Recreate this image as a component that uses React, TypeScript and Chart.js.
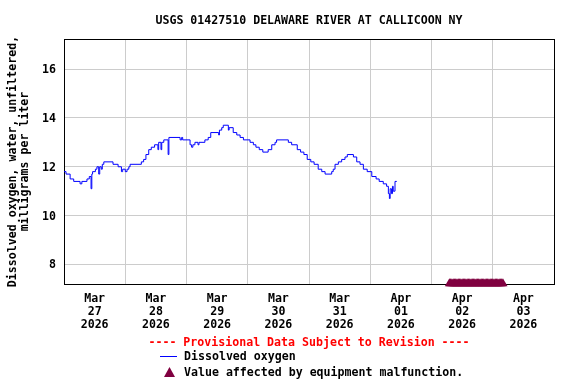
import React, { useEffect, useRef } from 'react';
import { Chart, registerables } from 'chart.js';

Chart.register(...registerables);

const TITLE = 'USGS 01427510 DELAWARE RIVER AT CALLICOON NY';
const Y_TITLE = ['Dissolved oxygen, water, unfiltered,', 'milligrams per liter'];
const PROVISIONAL = '---- Provisional Data Subject to Revision ----';
const SERIES_LABEL = 'Dissolved oxygen';
const MALFUNCTION_LABEL = 'Value affected by equipment malfunction.';

// hours since Mar 27 2026 00:00; label sits at noon of each day
const DAY_LABELS: string[][] = [
  ['Mar', '27', '2026'],
  ['Mar', '28', '2026'],
  ['Mar', '29', '2026'],
  ['Mar', '30', '2026'],
  ['Mar', '31', '2026'],
  ['Apr', '01', '2026'],
  ['Apr', '02', '2026'],
  ['Apr', '03', '2026'],
];
const X_TICK_HOURS = [0, 12, 24, 36, 48, 60, 72, 84, 96, 108, 120, 132, 144, 156, 168, 180, 192];
const X_MIN = 0;
const X_MAX = 192;

const Y_TICKS = [8, 10, 12, 14, 16];
const Y_MIN = 7.2;
const Y_MAX = 17.23;

const DO_HOURS = [
  0, 0.8, 2.4, 3.8, 6.3, 7.0, 9.0, 9.9, 10.6, 10.9, 11.2, 12.3, 12.9, 13.6, 14.0, 14.6, 15.0, 15.6,
  19.2, 21.2, 22.5, 23.0, 24.0, 24.7, 25.4, 25.9, 30.3, 31.2, 32.1, 33.2, 34.2, 35.5, 36.8, 37.1,
  38.0, 38.3, 39.1, 40.8, 41.1, 45.5, 46.1, 46.5, 49.4, 50.0, 50.5, 51.3, 52.5, 52.9, 55.2, 56.5,
  57.5, 60.6, 60.9, 61.8, 62.4, 64.4, 64.7, 66.3, 67.7, 69.0, 70.3, 72.9, 74.2, 75.2, 76.5, 77.9,
  80.0, 81.4, 82.7, 83.3, 87.9, 89.2, 91.4, 92.7, 94.0, 95.3, 96.7, 98.0, 99.6, 101.0, 102.3, 104.9,
  105.5, 106.2, 107.5, 108.8, 110.1, 111.0, 113.4, 114.7, 116.0, 117.3, 118.8, 120.6, 122.3, 123.5,
  125.1, 126.4, 127.1, 127.5, 127.8, 128.3, 128.7, 129.0, 129.7, 130.4,
];
const DO_VALUES = [
  11.8, 11.7, 11.5, 11.4, 11.3, 11.4, 11.5, 11.6, 11.1, 11.7, 11.8, 11.9, 12.0, 11.7, 12.0, 11.9, 12.1, 12.2,
  12.1, 12.0, 11.8, 11.9, 11.8, 11.9, 12.0, 12.1, 12.2, 12.3, 12.5, 12.7, 12.8, 12.9, 12.7, 13.0,
  12.7, 13.0, 13.1, 12.5, 13.2, 13.1, 13.2, 13.1, 12.9, 12.8, 12.9, 13.0, 12.9, 13.0, 13.1, 13.2,
  13.4, 13.3, 13.5, 13.6, 13.7, 13.5, 13.6, 13.4, 13.3, 13.2, 13.1, 13.0, 12.9, 12.8, 12.7, 12.6,
  12.7, 12.9, 13.0, 13.1, 13.0, 12.9, 12.7, 12.6, 12.5, 12.3, 12.2, 12.1, 11.9, 11.8, 11.7, 11.8,
  11.9, 12.1, 12.2, 12.3, 12.4, 12.5, 12.4, 12.2, 12.1, 11.9, 11.8, 11.6, 11.5, 11.4,
  11.3, 11.2, 10.9, 10.7, 11.1, 10.9, 11.2, 11.0, 11.4, 11.4,
];

const MALFUNCTION_HOURS = [
  151, 151.5, 152, 152.5, 153, 153.5, 154, 154.5, 155, 155.5, 156, 156.5, 157, 157.5, 158, 158.5,
  159, 159.5, 160, 160.5, 161, 161.5, 162, 162.5, 163, 163.5, 164, 164.5, 165, 165.5, 166, 166.5,
  167, 167.5, 168, 168.5, 169, 169.5, 170, 170.5, 171, 171.5, 172,
];
const MALFUNCTION_LEVEL = 7.22;

const FONT_FAMILY = '"DejaVu Sans Mono", monospace';
const FONT_SIZE = 11.6;
const LINE_COLOR = '#0000ff';
const MALFUNCTION_COLOR = '#800040';
const GRID_COLOR = '#cccccc';

const decorPlugin = {
  id: 'decor',
  beforeDatasetsDraw(chart: any) {
    const { ctx, chartArea } = chart;
    ctx.save();
    ctx.strokeStyle = '#000000';
    ctx.lineWidth = 1;
    ctx.strokeRect(chartArea.left + 0.5, chartArea.top + 0.5, chartArea.right - chartArea.left, chartArea.bottom - chartArea.top);
    ctx.restore();
  },
  afterDraw(chart: any) {
    const { ctx, chartArea } = chart;
    const cx = (chartArea.left + chartArea.right) / 2;
    ctx.save();
    ctx.font = `bold ${FONT_SIZE}px ${FONT_FAMILY}`;
    ctx.textBaseline = 'middle';
    ctx.textAlign = 'center';
    ctx.fillStyle = '#000000';
    ctx.fillText(TITLE, cx, 20.5);
    ctx.fillStyle = '#ff0000';
    ctx.fillText(PROVISIONAL, cx, 343);

    ctx.textAlign = 'left';
    ctx.strokeStyle = LINE_COLOR;
    ctx.lineWidth = 1;
    ctx.beginPath();
    ctx.moveTo(160, 356.5);
    ctx.lineTo(177, 356.5);
    ctx.stroke();
    ctx.fillStyle = '#000000';
    ctx.fillText(SERIES_LABEL, 184, 357);

    ctx.fillStyle = MALFUNCTION_COLOR;
    ctx.beginPath();
    ctx.moveTo(169.5, 367);
    ctx.lineTo(175, 377);
    ctx.lineTo(164, 377);
    ctx.closePath();
    ctx.fill();
    ctx.fillStyle = '#000000';
    ctx.fillText(MALFUNCTION_LABEL, 184, 373);
    ctx.restore();
  },
};

export default function App() {
  const canvasRef = useRef<HTMLCanvasElement | null>(null);

  useEffect(() => {
    const canvas = canvasRef.current;
    if (!canvas) return;
    const font = { family: FONT_FAMILY, size: FONT_SIZE, weight: 'bold' as const };

    const chart = new Chart(canvas, {
      type: 'line',
      data: {
        datasets: [
          {
            label: SERIES_LABEL,
            data: DO_HOURS.map((h, i) => ({ x: h, y: DO_VALUES[i] })),
            borderColor: LINE_COLOR,
            backgroundColor: LINE_COLOR,
            borderWidth: 1,
            pointRadius: 0,
            stepped: true,
            fill: false,
          },
          {
            label: MALFUNCTION_LABEL,
            data: MALFUNCTION_HOURS.map((h) => ({ x: h, y: MALFUNCTION_LEVEL })),
            showLine: false,
            pointStyle: 'triangle',
            pointRadius: 5.3,
            pointBorderWidth: 0,
            pointBackgroundColor: MALFUNCTION_COLOR,
            pointBorderColor: MALFUNCTION_COLOR,
            clip: false as any,
          },
        ],
      },
      options: {
        responsive: false,
        animation: false,
        events: [],
        layout: { padding: { top: 39, right: 22, bottom: 0, left: 0 } },
        plugins: {
          legend: { display: false },
          title: { display: false },
          tooltip: { enabled: false },
        },
        scales: {
          x: {
            type: 'linear',
            min: X_MIN,
            max: X_MAX,
            afterBuildTicks: (scale: any) => {
              scale.ticks = X_TICK_HOURS.map((v) => ({ value: v }));
            },
            afterFit: (scale: any) => {
              scale.height = 100;
            },
            grid: {
              drawTicks: false,
              color: (ctx: any) => (ctx.tick && ctx.tick.value % 24 === 0 ? GRID_COLOR : 'rgba(0,0,0,0)'),
              lineWidth: 1,
            },
            border: { display: false },
            ticks: {
              autoSkip: false,
              maxRotation: 0,
              minRotation: 0,
              padding: 8,
              color: '#000000',
              font: { ...font, lineHeight: 13 / FONT_SIZE },
              callback: (value: any) => {
                const v = Number(value);
                if (v % 24 === 12) {
                  const idx = (v - 12) / 24;
                  return DAY_LABELS[idx] || '';
                }
                return '';
              },
            },
          },
          y: {
            type: 'linear',
            min: Y_MIN,
            max: Y_MAX,
            afterBuildTicks: (scale: any) => {
              scale.ticks = Y_TICKS.map((v) => ({ value: v }));
            },
            afterFit: (scale: any) => {
              scale.width = 64;
            },
            grid: { drawTicks: false, color: GRID_COLOR, lineWidth: 1 },
            border: { display: false },
            ticks: {
              padding: 8,
              labelOffset: 1,
              color: '#000000',
              font,
              callback: (value: any) => String(value),
            },
            title: {
              display: true,
              text: Y_TITLE,
              color: '#000000',
              font: { ...font, lineHeight: 12 / FONT_SIZE },
              padding: { top: 7, bottom: 0 },
            },
          },
        },
      },
      plugins: [decorPlugin],
    });

    return () => chart.destroy();
  }, []);

  return (
    <div style={{ position: 'absolute', left: 0, top: 0, width: 576, height: 384, background: '#ffffff' }}>
      <canvas ref={canvasRef} width={576} height={384} style={{ display: 'block' }} />
    </div>
  );
}
